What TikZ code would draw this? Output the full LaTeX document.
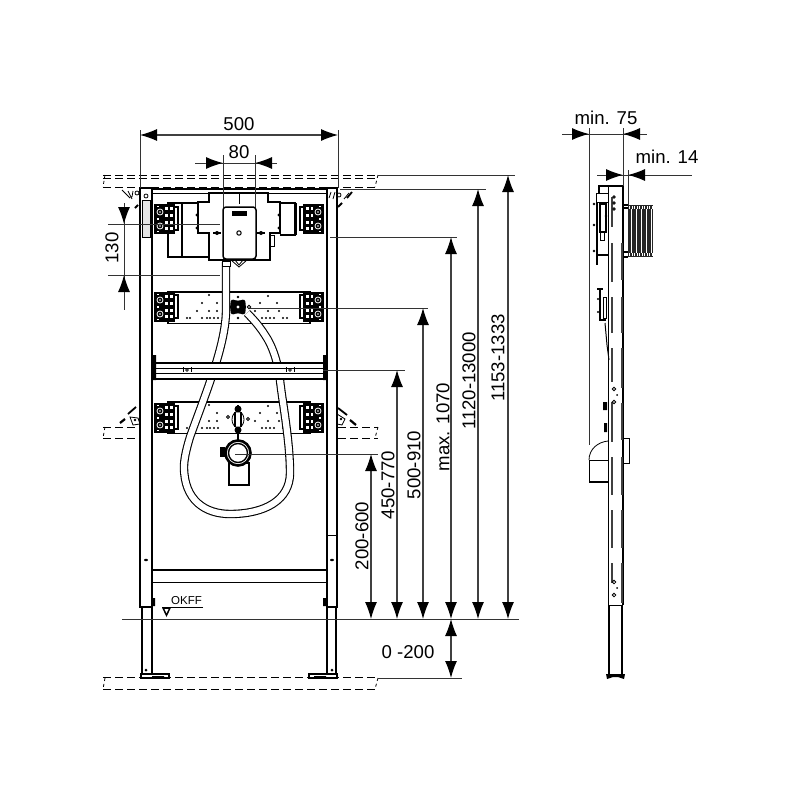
\documentclass[tikz,border=0pt]{standalone}
\usepackage{fontspec}
\setmainfont{Liberation Sans}
\usetikzlibrary{arrows.meta}

\tikzset{
  dimline/.style={line width=1.1pt,draw=black!75,{Latex[length=17pt,width=12pt,color=black]}-{Latex[length=17pt,width=12pt,color=black]}},
  tipin/.style={line width=1pt,draw=black!75,-{Latex[length=17pt,width=12pt,color=black]}},
  extline/.style={line width=1pt,draw=black!80},
  floorline/.style={line width=1pt,dash pattern=on 8pt off 4pt},
  frameline/.style={line width=1.8pt},
  thinline/.style={line width=0.8pt},
  hose/.style={line width=1.1pt,double=white,double distance=6.2pt},
  slot/.style={line width=2.2pt,black!75},
  dimlabel/.style={font=\fontsize{18.6}{22}\selectfont,inner sep=0pt},
  pics/clamp/.style={code={
    \fill (0,0) rectangle (19,28);
    \draw[line width=1.3pt] (0,0) rectangle (19,28);
    \draw[line width=1.3pt] (19,2) rectangle (23,25);
    \foreach \gy in {4,11,18,24} {
      \fill[white] (10,\gy-1.7) rectangle (12.5,\gy+1.3);
      \fill[white] (14.5,\gy-1.7) rectangle (17.5,\gy+1.3);
    }
    \foreach \gy in {7,21} {
      \draw[line width=0.8pt,draw=white,fill=black] (5,\gy) circle (3);
      \fill[white] (5,\gy) circle (0.9);
    }
    \foreach \gy in {1.5,14,26.5} \fill[white] (2,\gy-0.6) rectangle (4,\gy+0.6);
  }},
  pics/plate/.style={code={
    \draw[line width=1.5pt] (0,0) rectangle (142,31.5);
    \foreach \dx/\dy in {34/11,41/3,49/11,29/19,41/19,49/19,92/11,109/11,100/4,87/19,100/19,111/19,
                         19/26,22/26,34/26,39/26,42/26,46/26,50/26,94/26,98/26,102/26,106/26,115/26,119/26}
      \fill (\dx,\dy) circle (1.1);
  }}
}

\begin{document}
\begin{tikzpicture}[x=1pt,y=-1pt]
\useasboundingbox (0,0) rectangle (800,800);

% floors
\foreach \fy in {175,178.5,187,677,689}
  \draw[floorline] (103,\fy) -- (378,\fy);
\foreach \fy in {427,438} {
  \draw[floorline] (103,\fy) -- (140,\fy);
  \draw[floorline] (338,\fy) -- (378,\fy);
}
\foreach \fy/\gy in {175/187,427/438,678/689} {
  \draw[thinline,dashed] (105,\fy) -- (103,\gy);
  \draw[thinline,dashed] (378,\fy) -- (375,\gy);
}

% frame
\fill[white] (140,188) rectangle (152,607) (327,188) rectangle (337,607);
\draw[frameline] (140,188) rectangle (152,607);
\draw[frameline] (327,188) rectangle (337,607);
\draw[line width=2.4pt] (152,189) -- (327,189);
\draw[thinline] (152,193) -- (327,193);
\draw[thinline,fill=black!10] (142,200) rectangle (150,237);
\draw[thinline] (146,196) circle (2);
\draw[thinline] (327,535) -- (337,535);
\draw[frameline] (142,607) -- (142,674) (152,607) -- (152,674);
\draw[frameline] (327,607) -- (327,674) (336,607) -- (336,674);
\foreach \cx in {146,332} {
  \fill (\cx,560) ellipse (2 and 1.2);
  \fill (\cx,670) circle (1.5);
}
\draw[line width=1.2pt,fill=white] (141,674) rectangle (169,678);
\draw[line width=1.2pt,fill=white] (309,674) rectangle (337,678);
\fill (152,676) rectangle (164,678) (314,676) rectangle (326,678);
\draw[line width=1.4pt] (152,570) -- (327,570);
\draw[thinline] (152,582) -- (327,582);
\fill (153,598) rectangle (155,606) (323,598) rectangle (326,606);

% wall anchors
\draw[thinline] (122,190) -- (130,198) (128,191) -- (132,199) (133,191) -- (132,197);
\draw[thinline] (137,193) circle (2);
\draw[line width=2pt] (135,208) -- (138,205);
\draw[thinline] (331,192) -- (329,198) (335,192) -- (333,199);
\draw[thinline] (339,195) circle (2);
\draw[line width=1.8pt] (347,198) -- (352,192);
\draw[thinline] (344,199) -- (349,193);
\draw[line width=2pt] (338,207) -- (342,203);
\draw[line width=1.8pt] (128,414) -- (136,407);
\draw[line width=2.2pt] (120,423) -- (125,419);
\draw[thinline] (130,417) -- (138,418) -- (140,424) -- (133,425) -- cycle;
\fill (135,420) circle (1.4);
\draw[line width=1.8pt] (338,408) -- (347,415);
\draw[line width=2.2pt] (350,420) -- (356,425);
\draw[thinline] (337,414) -- (345,419) -- (342,425) -- (337,424) -- cycle;
\fill (341,419) circle (1.4);

% cistern body
\draw[line width=1.1pt]
     (209,193) -- (268,193) -- (268,202) -- (280,202) -- (280,233)
  -- (270,233) -- (270,260) -- (209,260) -- (209,233) -- (198,233)
  -- (198,202) -- (209,202) -- cycle;
\draw[line width=1.1pt] (198,203) -- (168,203) -- (168,257) -- (209,257);
\draw[line width=2.2pt] (182,203) -- (182,257);
\draw[line width=1.1pt] (280,203) -- (295,203) -- (295,235) -- (280,235);
\draw[line width=1.6pt] (296,203) -- (296,235);
\draw[thinline] (239,194) -- (239,204);
\draw[thinline] (270,235) rectangle (274,246);
\fill (197,215) circle (1.6) (197,228) circle (1.6) (279,215) circle (1.6) (279,228) circle (1.6);
\draw[line width=1.5pt,fill=white,rounded corners=3pt] (223,207) rectangle (256,259);
\draw[thinline,fill=black] (232,211) rectangle (246,215);
\draw[line width=1pt] (239,233) circle (2.2);
\foreach \hx in {217,261} {
  \draw[line width=1.2pt] (\hx-4,233) -- (\hx+4,233);
  \fill (\hx,233) circle (2);
}
\draw[thinline] (231,260) -- (239,267) -- (247,260);
\draw[thinline] (235,260) -- (239,265) -- (243,260);

% plates
\pic at (168,292) {plate};
\pic at (168,402) {plate};
\foreach \py in {205,293,404} {
  \pic at (155,\py) {clamp};
  \pic[xscale=-1] at (323,\py) {clamp};
}

% hose
\draw[hose] (226,262) -- (226,310)
  .. controls (226,345) and (205,395) .. (190,437)
  .. controls (186,450) and (184,460) .. (184,467)
  .. controls (184,500) and (205,514) .. (230,514)
  .. controls (265,514) and (290,500) .. (290,473)
  .. controls (290,440) and (282,400) .. (280,380)
  .. controls (278,362) and (272,345) .. (265,335)
  .. controls (260,327) and (254,320) .. (247,313);
\draw[line width=1pt,fill=white] (222,261) rectangle (230,266);

% valve
\fill[rounded corners=2.5pt] (231,299) -- (238,301) -- (245,299) -- (246,307) -- (245,315) -- (238,313) -- (231,315) -- (230,307) -- cycle;
\fill[white] (238,307) circle (1.6);
\fill (238,297) circle (1.3) (238,318) circle (1.3);
\draw[thinline,fill=white] (249,307) circle (1.8);

% crossbar
\fill[white] (152,363) rectangle (327,379);
\draw[frameline] (152,363) -- (327,363);
\draw[frameline] (152,368.5) -- (327,368.5);
\draw[thinline] (152,373.5) -- (327,373.5);
\draw[frameline] (152,379) -- (327,379);
\fill (152,355) rectangle (156,380) (323,355) rectangle (327,380);
\foreach \bx in {187,290} {
  \draw[thinline] (\bx,370) circle (1.4);
  \draw[thinline] (\bx-4,367) -- (\bx-4,372) (\bx+4,367) -- (\bx+4,372);
}

% outlet
\draw[line width=1.6pt] (238,405) -- (238,412);
\draw[thinline,fill=white] (238,419.5) ellipse (6 and 8);
\draw[line width=1.3pt] (235,412) -- (235,427) (241,412) -- (241,427);
\fill (238,409) circle (3.5) (238,430) circle (3.5);
\draw[thinline] (228,417) circle (1.5) (248,419) circle (1.5);
\draw[line width=1.5pt] (238,433) -- (238,440);
\draw[line width=1.1pt,fill=white] (229,463) rectangle (249,485);
\draw[line width=2pt] (229,485) -- (249,485);
\draw[line width=2.6pt,fill=white] (238,453) circle (12.5);
\draw[line width=1.4pt] (238,453) circle (9.5);
\fill (220,447) rectangle (225,457);
\draw[line width=1.4pt] (225,450) -- (227,450) (225,454) -- (227,454);

% OKFF
\draw[thinline] (203,607) -- (162,607);
\fill (162,607.5) -- (171,607.5) -- (166.5,617) -- cycle;
\fill[white] (164.5,609) -- (168.5,609) -- (166.5,613) -- cycle;
\node[inner sep=0pt,font=\fontsize{11.5}{13}\selectfont] (okff) at (186.5,600.5) {OKFF};

% dimensions top
\draw[extline] (140,130) -- (140,188);
\draw[extline] (338,130) -- (338,188);
\coordinate (wl) at (140,135);
\coordinate (wr) at (338,135);
\draw[dimline] (wl) -- (wr);
\node[dimlabel] (w500) at (239,124) {500};
\draw[extline] (223,155) -- (223,207);
\draw[extline] (255,155) -- (255,207);
\draw[extline] (195,163) -- (277,163);
\draw[tipin] (205,163) -- (223,163);
\draw[tipin] (273,163) -- (255,163);
\node[dimlabel] (w80) at (239,152) {80};
\draw[extline] (108,224) -- (220,224);
\draw[extline] (108,275) -- (220,275);
\draw[extline] (124,203) -- (124,310);
\draw[tipin] (124,206) -- (124,224);
\draw[tipin] (124,293) -- (124,275);
\node[dimlabel,rotate=90] (h130) at (112,248) {130};

% dimensions right
\draw[extline] (122,619) -- (519,619);
\draw[extline] (378,175) -- (515,175);
\draw[extline] (340,189) -- (486,189);
\draw[extline] (330,237) -- (457,237);
\draw[extline] (250,308) -- (428,308);
\draw[extline] (323,370) -- (405,370);
\draw[extline] (235,454) -- (378,454);
\draw[extline] (378,678) -- (462,678);
\foreach \dx/\dy/\lx/\ly/\dtext in {
    371/454/362/536/200-600,
    397/370/388/485/450-770,
    423/308/414/465/500-910,
    451/237/443/427/max. 1070,
    478/189/469/381/1120-13000,
    508/175/498/358/1153-1333} {
  \coordinate (dtop) at (\dx,\dy);
  \coordinate (dbot) at (\dx,619);
  \draw[dimline] (dtop) -- (dbot);
  \node[dimlabel,rotate=90] at (\lx,\ly) {\dtext};
}
\coordinate (legtop) at (451,619);
\coordinate (legbot) at (451,678);
\draw[dimline] (legtop) -- (legbot);
\node[dimlabel] (h200) at (408,652) {0 -200};

% side view
\draw[extline] (589,128) -- (589,445);
\draw[extline] (623,128) -- (623,186);
\draw[extline] (628,170) -- (628,205);
\draw[extline] (562,134) -- (647,134);
\draw[tipin] (571,134) -- (589,134);
\draw[tipin] (641,134) -- (623,134);
\node[dimlabel] (d75) at (606,118) {min. 75};
\draw[extline] (597,175) -- (692,175);
\draw[tipin] (605,175) -- (623,175);
\draw[tipin] (646,175) -- (628,175);
\node[dimlabel] (d14) at (667,157) {min. 14};

\draw[line width=1.1pt] (599,193) -- (599,186) -- (623,186);
\draw[frameline] (608.5,186) -- (608.5,605);
\draw[frameline] (623,186) -- (623,605);
\draw[thinline] (608,605) -- (623,605);
\draw[line width=1.6pt] (609,605) -- (609,674);
\draw[line width=1.6pt] (622,605) -- (622,674);
\fill (606,674) -- (625,674) -- (624,679) -- (618,677) -- (613,677) -- (607,679) -- cycle;
\foreach \sx/\sa/\sb in {
    612/197/227, 612/243/282, 612/297/333, 612/348/382, 612/402/442, 612/457/495, 612/510/548, 612/563/583,
    622/243/280, 622/297/333, 622/348/388, 622/403/440, 622/457/495, 622/510/548, 622/563/603}
  \draw[slot] (\sx,\sa) -- (\sx,\sb);
\foreach \cy in {389,402,582,595}
  \draw[thinline,fill=white] (614,\cy) circle (1.8);
\fill (617,395) circle (1) (617,588) circle (1);
\foreach \cy in {197,203,209}
  \draw[thinline,fill=white] (614,\cy) circle (1.3);

% side cistern
\draw[thinline] (596,193) rectangle (608,202);
\draw[line width=1.1pt] (597,202) -- (597,255) -- (608,255);
\draw[line width=1.1pt,fill=white] (600,204) rectangle (606,232);
\draw[thinline] (600,232) rectangle (604,240);
\draw[line width=1.4pt] (597,255) -- (597,265);
\fill (594,204) circle (1.3) (594,225) circle (1.3) (594,251) circle (1.3) (606,216) circle (1.3);
\draw[line width=1.1pt] (597,289) -- (603,289) (600,289) -- (600,320) -- (606,320);
\draw[thinline] (603,297) rectangle (606,318);
\fill (598,299) circle (1.2) (598,312) circle (1.2);
\draw[line width=1pt] (605,323) -- (607,345) -- (609,360);
\fill (603,402) rectangle (607,410) (604,423) rectangle (607,432);

% side flush plate
\draw[line width=1.5pt] (624,205) -- (628,205) (624,208) -- (628,208);
\draw[line width=1.5pt] (624,252) -- (628,252) (624,257) -- (628,257);
\fill[black!85] (628,205) rectangle (653,257);
\foreach \rx in {631,636,...,651}
  \draw[line width=0.5pt,white] (\rx,209) -- (\rx,253);
\foreach \rx in {629.5,632,...,652}
  \draw[line width=0.6pt,white] (\rx,206) -- (\rx,209) (\rx,253) -- (\rx,256);

% side elbow
\draw[thinline] (589,460) .. controls (589,449) and (598,442) .. (608,441);
\draw[thinline] (589,460) -- (608,460);
\draw[thinline] (589,460) -- (589,482);
\draw[line width=1.6pt] (589,482) -- (608,482);
\draw[line width=1pt] (624,438) -- (629,438) -- (629,463) -- (624,463);
\end{tikzpicture}
\end{document}
